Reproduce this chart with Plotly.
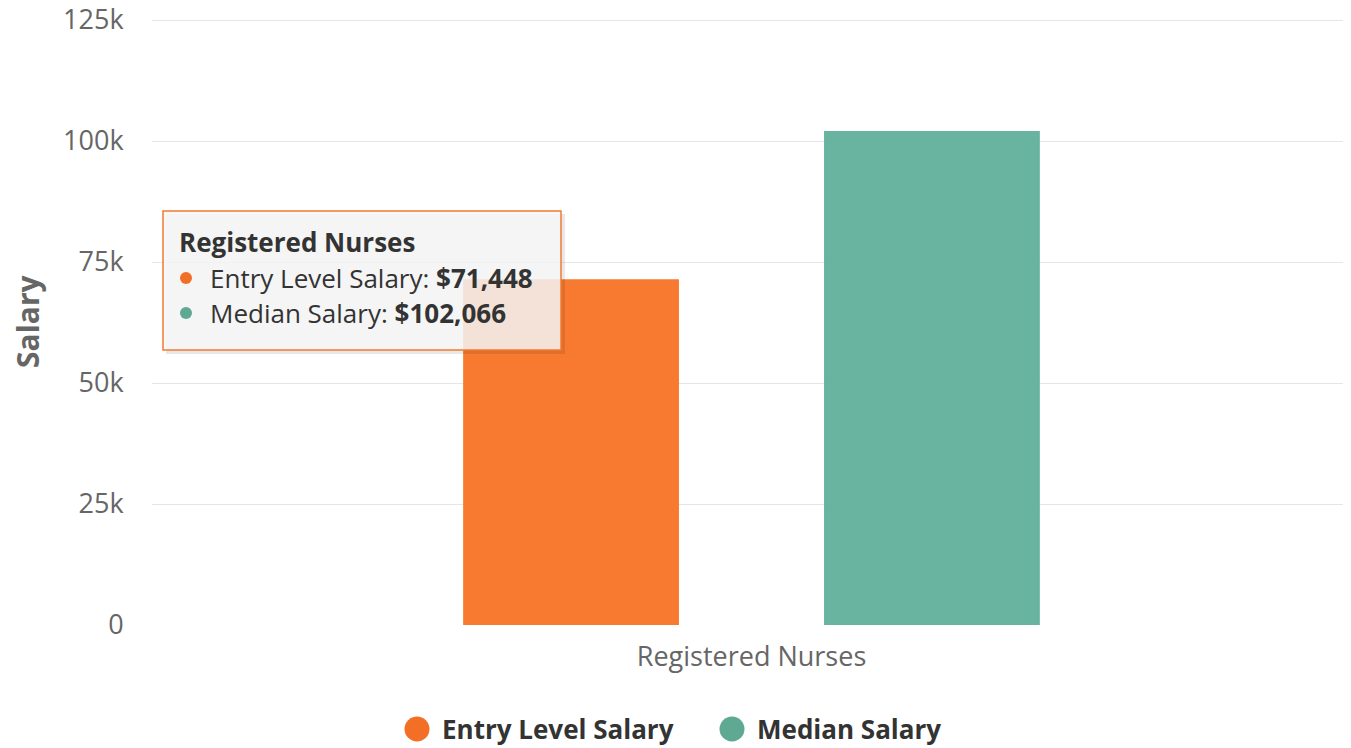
import plotly.graph_objects as go

# ---- data ----
categories = ["Registered Nurses"]
series_names = ["Entry Level Salary", "Median Salary"]
entry_level = [71448]
median = [102066]
series_colors = ["#f77a30", "#69b4a0"]
legend_colors = ["#f36f25", "#5fa993"]
y_tickvals = [0, 25000, 50000, 75000, 100000, 125000]
y_ticktext = ["0", "25k", "50k", "75k", "100k", "125k"]
y_title = "Salary"
tooltip_title = "Registered Nurses"

FONT = "Open Sans"
OFF = 8  # page body margin offset

# plot area in reference pixels: left 152, right 1351, 125k at y=20, 0 at y=625
L, R, Y125, B = 152, 1351, 20, 625
PAD_TOP = 4  # a few px above the 125k gridline so it stays visible
T = Y125 - PAD_TOP
YMAX = 125000 + PAD_TOP * 125000 / (B - Y125)
W, H = 1351 - OFF, 748 - OFF

def px(x):
    return (x - L) / (R - L)
def py(y):
    return (B - y) / (B - T)

fig = go.Figure()
for name, vals, col in zip(series_names, [entry_level, median], series_colors):
    fig.add_trace(go.Bar(x=categories, y=vals, name=name, marker=dict(color=col, line=dict(width=0)),
                         showlegend=False, hoverinfo="skip"))

shapes = []
annotations = []

# y-axis title
annotations.append(dict(xref="paper", yref="paper", x=px(28), y=py(321), xanchor="center", yanchor="middle",
                        text="<b>" + y_title + "</b>", textangle=-90, showarrow=False,
                        font=dict(family=FONT, size=30, color="#666666")))

# tooltip box (shadow + box)
shapes.append(dict(type="rect", xref="paper", yref="paper", layer="above",
                   x0=px(166), x1=px(565), y0=py(354), y1=py(214),
                   fillcolor="rgba(0,0,0,0.09)", line=dict(width=0)))
shapes.append(dict(type="rect", xref="paper", yref="paper", layer="above",
                   x0=px(163), x1=px(561), y0=py(350), y1=py(211),
                   fillcolor="rgba(247,247,247,0.85)", line=dict(color="#f47a30", width=1.5)))

annotations.append(dict(xref="paper", yref="paper", x=px(177), y=py(242), xanchor="left", yanchor="middle",
                        text="<b>" + tooltip_title + "</b>", showarrow=False,
                        font=dict(family=FONT, size=26, color="#333333")))
vals_all = [entry_level[0], median[0]]
for i, (name, v) in enumerate(zip(series_names, vals_all)):
    yy = [278, 313][i]
    shapes.append(dict(type="circle", xref="paper", yref="paper", layer="above",
                       x0=px(180), x1=px(192), y0=py(yy + 6), y1=py(yy - 6),
                       fillcolor=legend_colors[i], line=dict(width=0)))
    annotations.append(dict(xref="paper", yref="paper", x=px(208), y=py(yy), xanchor="left", yanchor="middle",
                            text=f"{name}: <b>${v:,}</b>", showarrow=False,
                            font=dict(family=FONT, size=26, color="#333333")))

# legend (circle markers + bold labels)
legend_items = [(417, 440), (732, 755)]
for i, (cx, tx) in enumerate(legend_items):
    shapes.append(dict(type="circle", xref="paper", yref="paper", layer="above",
                       x0=px(cx - 12.5), x1=px(cx + 12.5), y0=py(729 + 12.5), y1=py(729 - 12.5),
                       fillcolor=legend_colors[i], line=dict(width=0)))
    annotations.append(dict(xref="paper", yref="paper", x=px(tx), y=py(729), xanchor="left", yanchor="middle",
                            text="<b>" + series_names[i] + "</b>", showarrow=False,
                            font=dict(family=FONT, size=26, color="#333333")))

fig.update_layout(
    width=W, height=H,
    margin=dict(l=L - OFF, r=W - (R - OFF), t=T - OFF, b=H - (B - OFF), pad=0, autoexpand=False),
    paper_bgcolor="white", plot_bgcolor="white",
    barmode="group", bargap=0.398, bargroupgap=0.402,
    showlegend=False, hovermode=False,
    font=dict(family=FONT, color="#666666"),
    xaxis=dict(showgrid=False, showline=False, zeroline=False, ticks="outside", ticklen=8,
               tickcolor="rgba(0,0,0,0)", tickfont=dict(family=FONT, size=27, color="#666666")),
    yaxis=dict(range=[0, YMAX], tickvals=y_tickvals, ticktext=y_ticktext,
               showgrid=True, gridcolor="#e6e6e6", gridwidth=1, zeroline=False, showline=False,
               ticks="outside", ticklen=22, tickcolor="rgba(0,0,0,0)", ticklabeloverflow="allow",
               automargin=False,
               tickfont=dict(family=FONT, size=27, color="#666666")),
    shapes=shapes, annotations=annotations,
)

fig.write_html("out.html")
